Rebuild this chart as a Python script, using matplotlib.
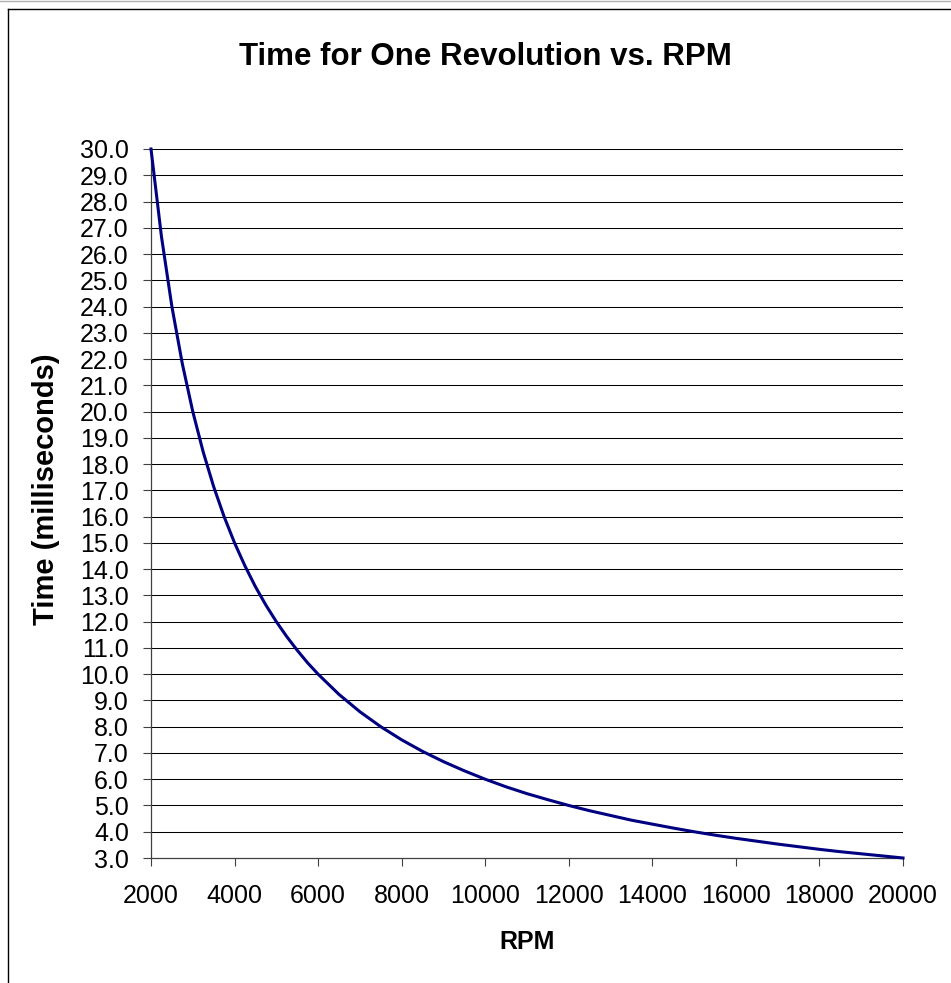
import numpy as np
import matplotlib
matplotlib.use("Agg")
from matplotlib import pyplot as plt
from matplotlib.lines import Line2D

# readings (RPM, milliseconds per revolution)
rpm = [2000, 2250, 2500, 2750, 3000, 3250, 3500, 3750, 4000, 4250,
       4500, 4750, 5000, 5250, 5500, 5750, 6000, 6500,
       7000, 7500, 8000, 8500, 9000, 9500, 10000, 10500, 11000, 11500,
       12000, 12500, 13000, 13500, 14000, 14500, 15000, 15500, 16000, 16500,
       17000, 17500, 18000, 18500, 19000, 19500, 20000]
time_ms = [30.0, 26.67, 24.0, 21.82, 20.0, 18.46, 17.14, 16.0, 15.0, 14.12,
           13.33, 12.63, 12.0, 11.43, 10.91, 10.43, 10.0, 9.23,
           8.57, 8.0, 7.5, 7.06, 6.67, 6.32, 6.0, 5.71, 5.45, 5.22,
           5.0, 4.8, 4.62, 4.44, 4.29, 4.14, 4.0, 3.87, 3.75, 3.64,
           3.53, 3.43, 3.33, 3.24, 3.16, 3.08, 3.0]

x_ticks = [2000, 4000, 6000, 8000, 10000, 12000, 14000, 16000, 18000, 20000]
y_ticks = [3.0 + i for i in range(28)]

plt.rcParams['font.family'] = ['Liberation Sans', 'DejaVu Sans']

W, H = 951, 983
fig = plt.figure(figsize=(W / 100, H / 100), dpi=100)
fig.patch.set_facecolor('white')

ax = fig.add_axes([151 / W, 1 - 858 / H, (903 - 151) / W, (858 - 149) / H])

# outer chart frame (left and top edges visible)
fig.add_artist(Line2D([8 / W, 8 / W], [0, 1 - 9 / H], color='black', lw=1.0,
                      transform=fig.transFigure))
fig.add_artist(Line2D([8 / W, 1], [1 - 9 / H, 1 - 9 / H], color='black', lw=1.0,
                      transform=fig.transFigure))
fig.add_artist(Line2D([0, 1], [1 - 1 / H, 1 - 1 / H], color='#b0b0b0', lw=1.0,
                      transform=fig.transFigure))

for yv in y_ticks[1:]:
    ax.axhline(yv, color='black', lw=0.75, zorder=1)

ax.plot(rpm, time_ms, color='#000080', lw=2.2, zorder=3, clip_on=False)

ax.set_xlim(2000, 20000)
ax.set_ylim(3.0, 30.0)
ax.set_xticks(x_ticks)
ax.set_yticks(y_ticks)
ax.set_yticklabels(['%.1f' % v for v in y_ticks])
ax.tick_params(axis='both', labelsize=18, direction='out', length=6, width=0.8,
               color='#404040')
ax.tick_params(axis='x', pad=13)
ax.tick_params(axis='y', pad=10)

for s in ['top', 'right']:
    ax.spines[s].set_visible(False)
for s in ['left', 'bottom']:
    ax.spines[s].set_color('#404040')
    ax.spines[s].set_linewidth(0.9)

fig.text(485 / W, 1 - 57 / H, 'Time for One Revolution vs. RPM', ha='center', va='center',
         fontsize=22.5, fontweight='bold')
fig.text(527 / W, 1 - 942 / H, 'RPM', ha='center', va='center',
         fontsize=18, fontweight='bold')
fig.text(46 / W, 1 - 489 / H, 'Time (milliseconds)', ha='center', va='center',
         rotation=90, fontsize=21, fontweight='bold')

fig.savefig('out.png', dpi=100)
